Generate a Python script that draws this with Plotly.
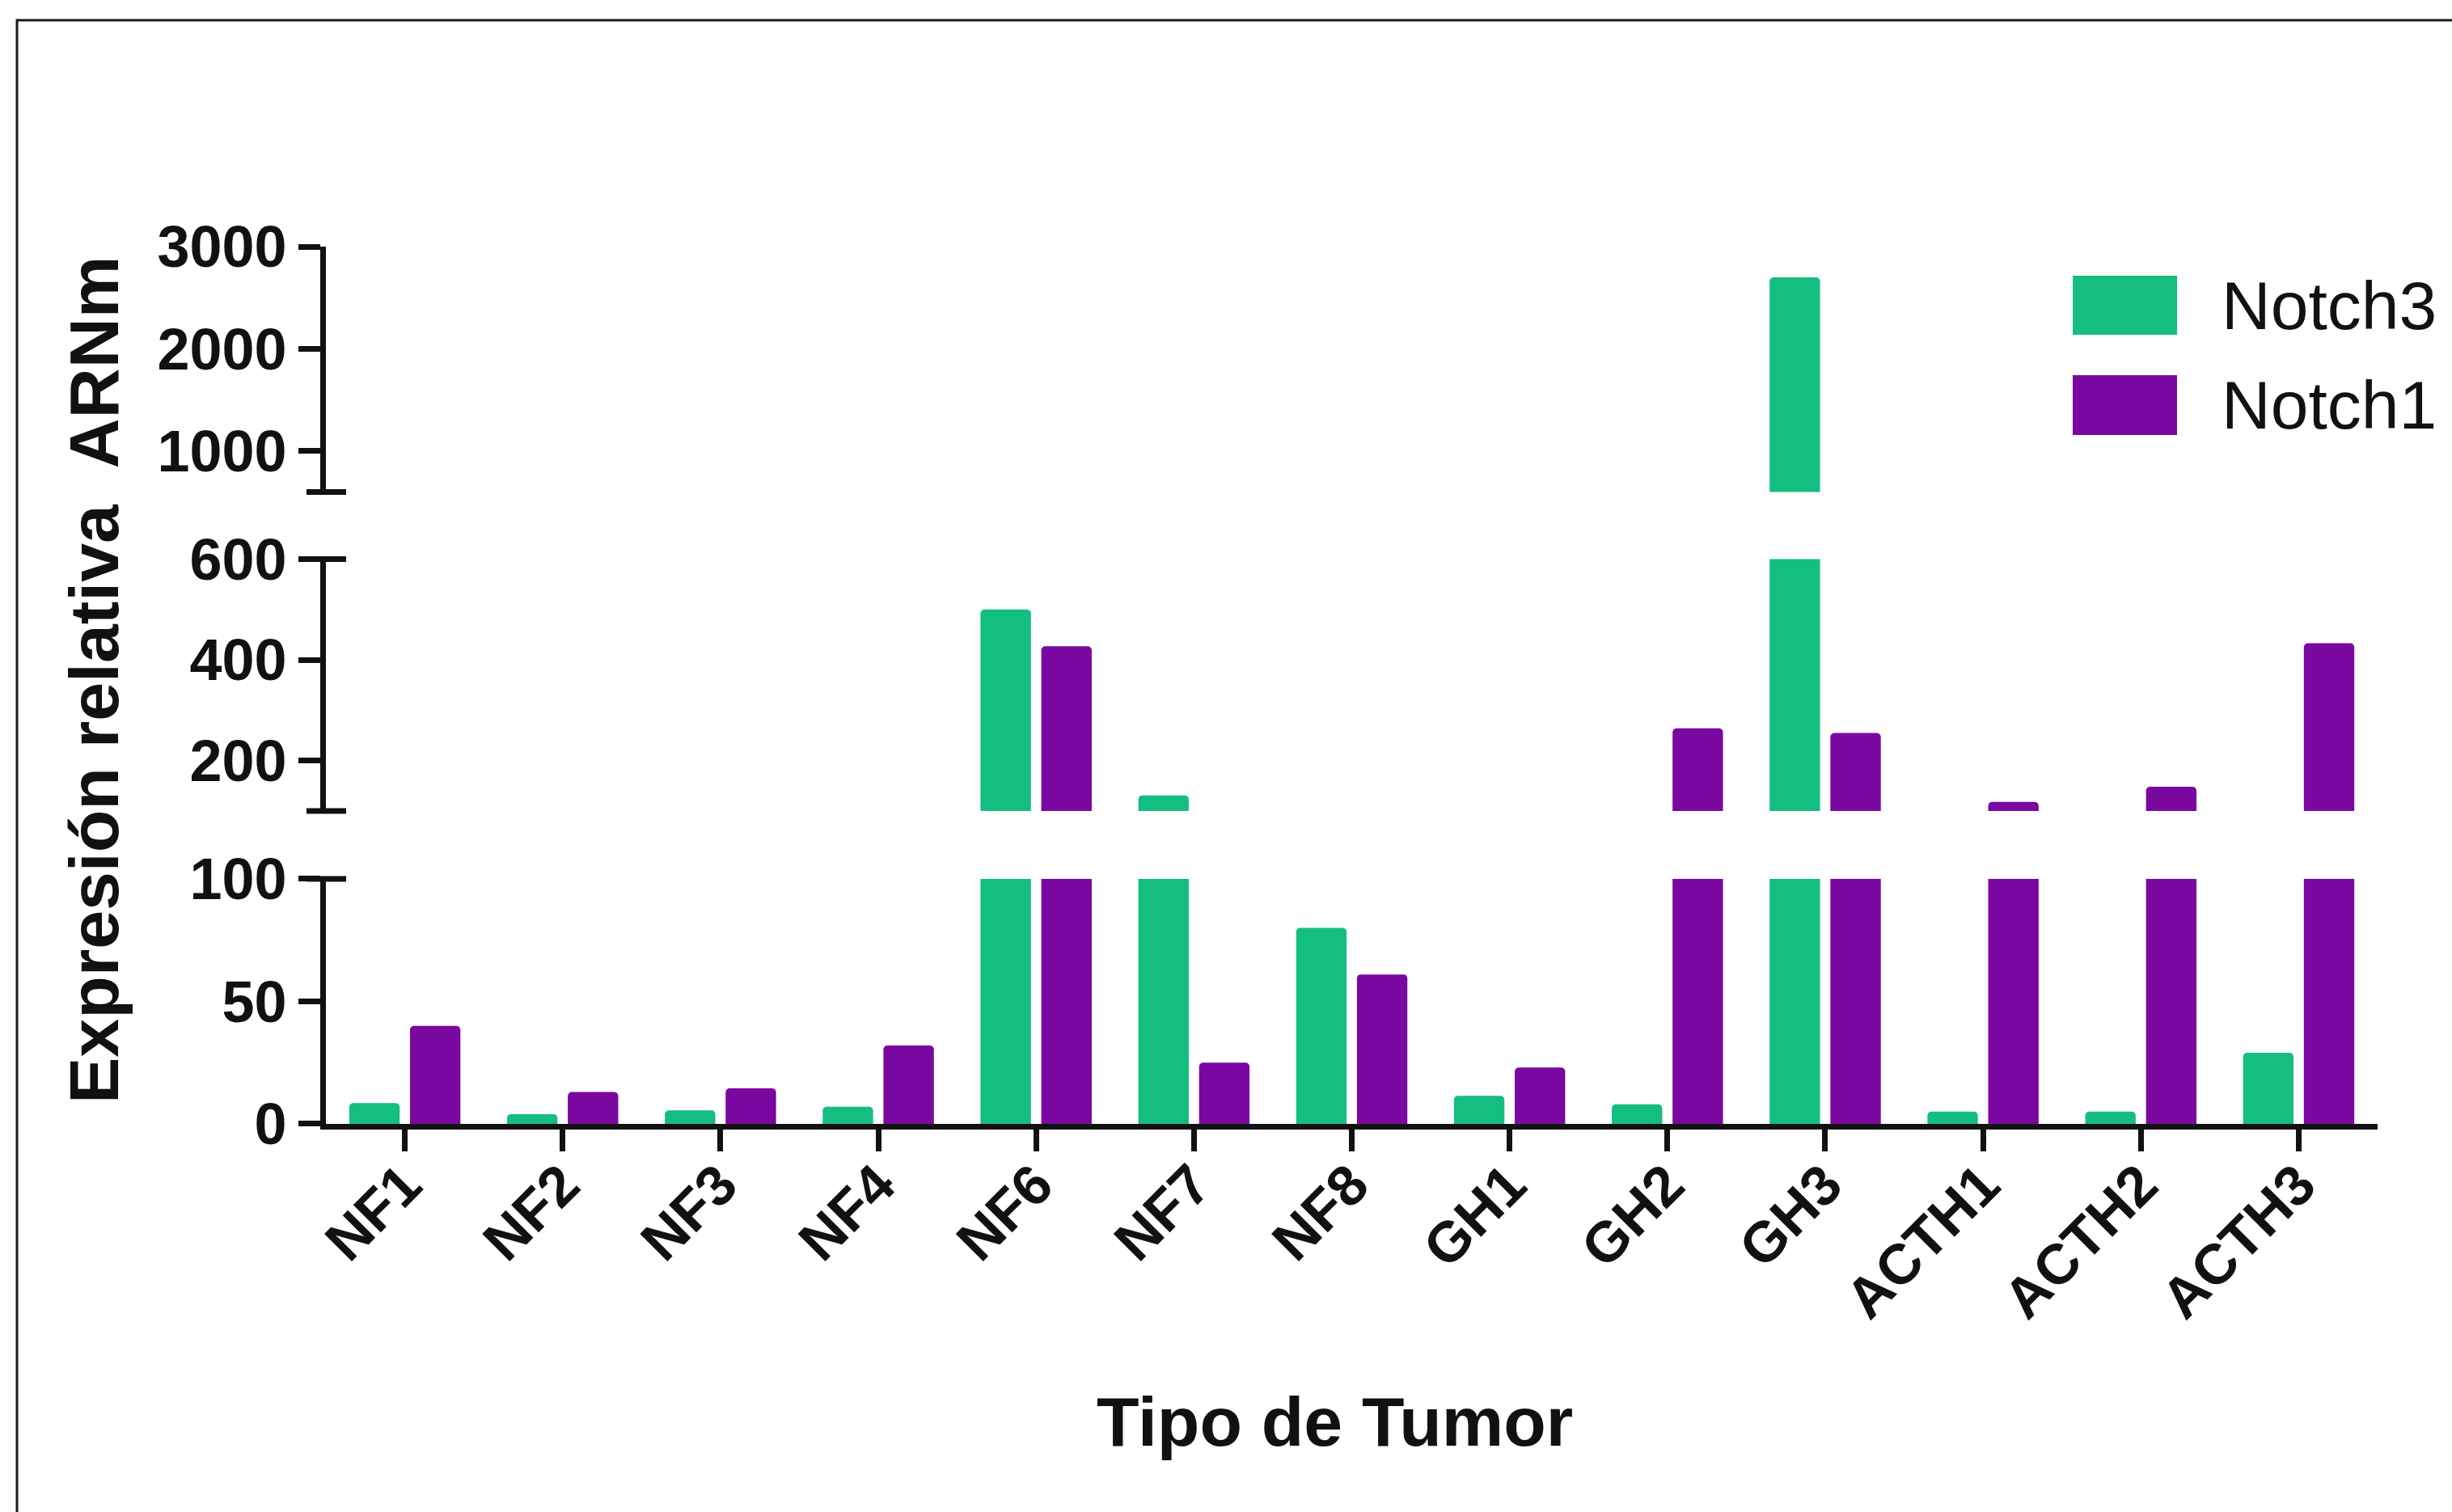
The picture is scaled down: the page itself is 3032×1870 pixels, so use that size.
import plotly.graph_objects as go

# ---- data -------------------------------------------------------------
categories = ["NF1", "NF2", "NF3", "NF4", "NF6", "NF7", "NF8",
              "GH1", "GH2", "GH3", "ACTH1", "ACTH2", "ACTH3"]
notch3 = [8.5, 4, 5.5, 7, 500, 131, 80, 11.5, 8, 2700, 5, 5, 29]
notch1 = [40, 13, 14.5, 32, 427, 25, 61, 23, 264, 255, 118, 148, 433]

series_names = ["Notch3", "Notch1"]
series_values = [notch3, notch1]
series_colors = ["#13BE80", "#7A08A0"]

# broken y axis: (range, tick values) for bottom, middle and top segment
seg_ranges = [[0, 100], [100, 600], [600, 3000]]
seg_ticks = [[0, 50, 100], [200, 400, 600], [1000, 2000, 3000]]

# ---- geometry ---------------------------------------------------------
W, H = 3032, 1870
ML, MR, MT, MB = 403, 92, 305, 480
PW, PH = W - ML - MR, H - MT - MB
seg_domains = [[0.0, 0.2793], [0.3567, 0.6437], [0.7203, 1.0]]


def px_x(px):
    return (px - ML) / PW


def px_y(py):
    return (H - MB - py) / PH


FONT = "Liberation Sans, Arial, Helvetica, sans-serif"
BLACK = "#111111"
AX_W = 7

fig = go.Figure()

axis_names = ["y", "y2", "y3"]
for k, yname in enumerate(axis_names):
    for name, vals, col in zip(series_names, series_values, series_colors):
        fig.add_trace(go.Bar(
            x=categories, y=vals, name=name,
            marker=dict(color=col, line=dict(width=0)),
            xaxis="x", yaxis=yname, showlegend=False,
            hovertemplate="%{x}: %{y}<extra>" + name + "</extra>",
        ))

tickfont = dict(family=FONT, size=72, color=BLACK, weight="bold")

layout_axes = {}
for k, yname in enumerate(axis_names):
    key = "yaxis" if k == 0 else "yaxis%d" % (k + 1)
    layout_axes[key] = dict(
        domain=seg_domains[k], range=seg_ranges[k], autorange=False,
        tickmode="array", tickvals=seg_ticks[k],
        showline=True, linewidth=AX_W, linecolor=BLACK,
        ticks="outside", ticklen=27, tickwidth=AX_W, tickcolor=BLACK,
        tickfont=tickfont, showgrid=False, zeroline=False,
        anchor="x", fixedrange=True,
    )

fig.update_layout(
    width=W, height=H,
    margin=dict(l=ML, r=MR, t=MT, b=MB, pad=0),
    paper_bgcolor="white", plot_bgcolor="white",
    barmode="group", bargap=0.23, bargroupgap=0.17, barcornerradius=5,
    xaxis=dict(
        type="category", range=[-0.5, len(categories) - 0.5],
        showline=True, linewidth=AX_W, linecolor=BLACK,
        ticks="outside", ticklen=27, tickwidth=AX_W, tickcolor=BLACK,
        tickangle=-45, ticklabelstandoff=-28,
        tickfont=dict(family=FONT, size=70, color=BLACK, weight="bold"),
        showgrid=False, zeroline=False, anchor="y", fixedrange=True,
    ),
    **layout_axes,
)

shapes = []
# caps that close each axis segment at the breaks
cap_x0, cap_x1 = px_x(ML - 24), px_x(ML + 25)
for yv in [seg_domains[0][1], seg_domains[1][0], seg_domains[1][1], seg_domains[2][0]]:
    shapes.append(dict(type="line", xref="paper", yref="paper",
                       x0=cap_x0, x1=cap_x1, y0=yv, y1=yv,
                       line=dict(color=BLACK, width=AX_W)))

# outer frame (top and left edges visible)
shapes.append(dict(type="rect", xref="paper", yref="paper",
                   x0=px_x(21), x1=px_x(W + 40), y0=px_y(H + 40), y1=px_y(25),
                   line=dict(color="#1a1a1a", width=3), fillcolor="rgba(0,0,0,0)"))

# legend swatches
sw_x0, sw_x1 = px_x(2563), px_x(2692)
legend_rows = [(341, 414), (464, 538)]
annotations = []
for (top, bot), name, col in zip(legend_rows, series_names, series_colors):
    shapes.append(dict(type="rect", xref="paper", yref="paper",
                       x0=sw_x0, x1=sw_x1, y0=px_y(bot), y1=px_y(top),
                       line=dict(width=0), fillcolor=col))
    annotations.append(dict(
        text=name, xref="paper", yref="paper",
        x=px_x(2745), y=px_y((top + bot) / 2), xanchor="left", yanchor="middle",
        showarrow=False, font=dict(family=FONT, size=84, color=BLACK),
    ))

# axis titles
annotations.append(dict(
    text="Expresión relativa\u00a0 ARNm", xref="paper", yref="paper",
    x=px_x(116), y=px_y(841), xanchor="center", yanchor="middle",
    textangle=-90, showarrow=False,
    font=dict(family=FONT, size=86, color=BLACK, weight="bold"),
))
annotations.append(dict(
    text="Tipo de Tumor", xref="paper", yref="paper",
    x=px_x(1650), y=px_y(1758), xanchor="center", yanchor="middle",
    showarrow=False,
    font=dict(family=FONT, size=86, color=BLACK, weight="bold"),
))

fig.update_layout(shapes=shapes, annotations=annotations)

fig.write_html("out.html")
